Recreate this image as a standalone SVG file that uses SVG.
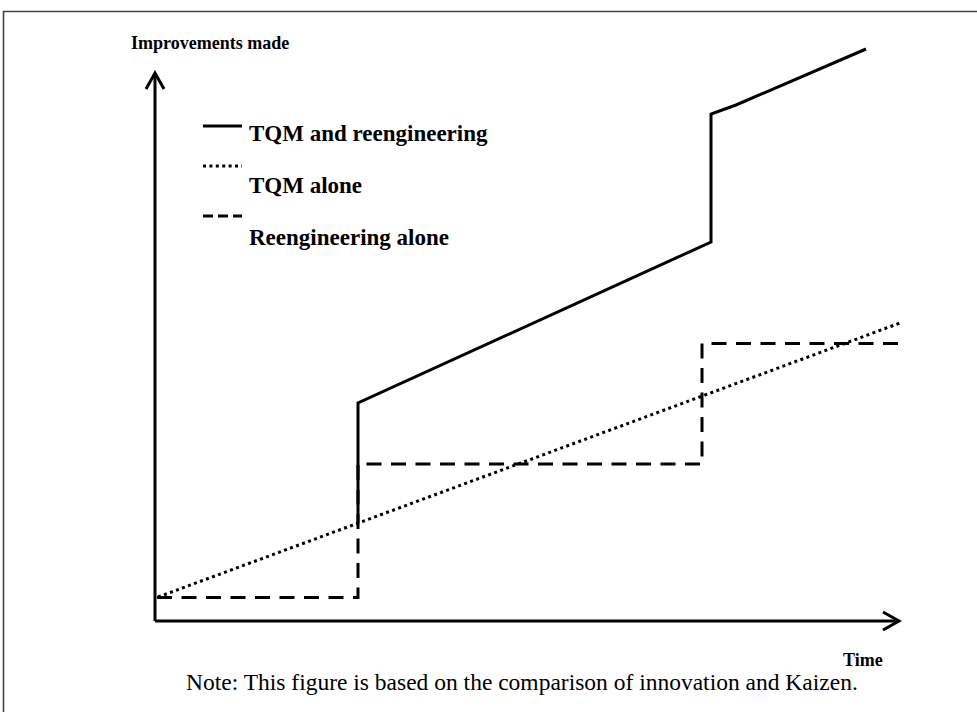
<svg xmlns="http://www.w3.org/2000/svg" width="977" height="712" viewBox="0 0 977 712">
<style>
  .ln { fill: none; stroke: #000; stroke-width: 3; stroke-linejoin: miter; }
  .dash { stroke-dasharray: 15 9.5; }
  .dot { stroke-dasharray: 3 3.4; }
  .lbl { font-family: "Liberation Serif", "Times New Roman", serif; font-weight: bold; fill: #000; }
  .note { font-family: "Liberation Serif", "Times New Roman", serif; fill: #000; }
</style>
<rect x="0" y="0" width="977" height="712" fill="#fff"/>
<g id="frame">
  <path d="M3.5 712 V11.5 H977" fill="none" stroke="#444" stroke-width="1.6"/>
</g>
<g id="axes">
  <path class="ln" d="M155 621 V73"/>
  <path class="ln" d="M146 89 L155 73 L164 89"/>
  <path class="ln" d="M155 621 H899"/>
  <path class="ln" d="M883 612 L899 621 L883 630"/>
  <text class="lbl" x="131" y="49" font-size="18">Improvements made</text>
  <text class="lbl" x="843" y="666" font-size="18">Time</text>
</g>
<g id="legend">
  <path class="ln" d="M203 126 H242"/>
  <text class="lbl" x="249" y="141" font-size="23">TQM and reengineering</text>
  <path class="ln dot" d="M203 166 H242"/>
  <text class="lbl" x="249" y="193" font-size="23">TQM alone</text>
  <path class="ln dash" d="M203 216 H242" style="stroke-dasharray:10 5"/>
  <text class="lbl" x="249" y="245" font-size="23">Reengineering alone</text>
</g>
<g id="connectors">
  <path id="tqm-alone" class="ln dot" d="M158 597 L900 323"/>
  <path id="reeng-alone" class="ln dash" d="M157 597.5 H358 V464 H702 V343.5 H902"/>
  <path id="tqm-reeng" class="ln" d="M358 523 V403 L711 242 V114 L736 105 L866 49"/>
</g>
<g id="footnote">
  <text class="note" x="186" y="690" font-size="23.5">Note: This figure is based on the comparison of innovation and Kaizen.</text>
</g>
</svg>
